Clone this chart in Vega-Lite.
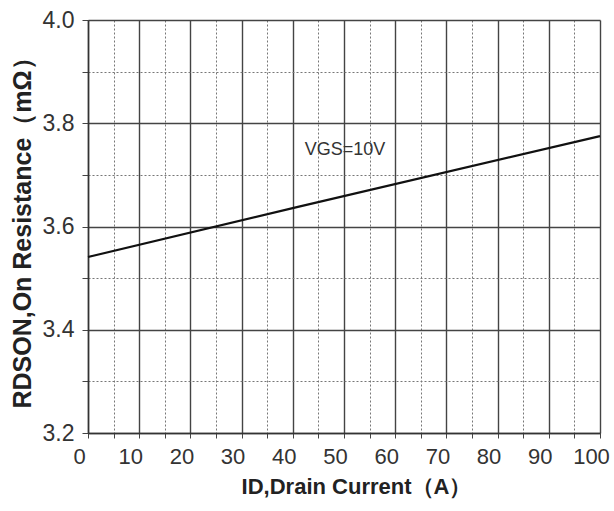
{
  "$schema": "https://vega.github.io/schema/vega-lite/v6.json",
  "width": 512,
  "height": 413,
  "autosize": {"type": "none"},
  "padding": {"left": 88, "top": 20, "right": 14, "bottom": 78},
  "background": "white",
  "config": {
    "font": "Liberation Sans",
    "view": {"stroke": null}
  },
  "datasets": {
    "curve": [
      {"id": 0, "r": 3.541},
      {"id": 41, "r": 3.638},
      {"id": 100, "r": 3.775}
    ],
    "note": [
      {"id": 50.2, "r": 3.748, "label": "VGS=10V"}
    ]
  },
  "encoding": {
    "x": {
      "field": "id", "type": "quantitative",
      "scale": {"domain": [0, 100], "nice": false, "zero": false},
      "axis": {
        "values": [0,5,10,15,20,25,30,35,40,45,50,55,60,65,70,75,80,85,90,95,100],
        "labelExpr": "abs(round(datum.value/5)) % 2 == 0 ? datum.label : ''",
        "labelFontSize": 22,
        "labelColor": "#333",
        "labelPadding": 8,
        "labelOffset": -9,
        "labelFlush": false,
        "labelOverlap": false,
        "tickSize": 5,
        "tickColor": "#444",
        "domainColor": "#333",
        "domainWidth": 1.5,
        "grid": true,
        "gridColor": {"condition": {"test": "abs(round(datum.value/5)) % 2 == 1", "value": "#777"}, "value": "#444"},
        "gridDash": {"condition": {"test": "abs(round(datum.value/5)) % 2 == 1", "value": [2, 2]}, "value": []},
        "gridWidth": {"condition": {"test": "abs(round(datum.value/5)) % 2 == 1", "value": 1}, "value": 1.4},
        "title": "ID,Drain Current（A）",
        "titleFontSize": 22,
        "titleFontWeight": "bold",
        "titleColor": "#222",
        "titlePadding": 9,
        "titleX": 268
      }
    },
    "y": {
      "field": "r", "type": "quantitative",
      "scale": {"domain": [3.2, 4.0], "nice": false, "zero": false},
      "axis": {
        "values": [3.2,3.3,3.4,3.5,3.6,3.7,3.8,3.9,4.0],
        "labelExpr": "abs(round(datum.value*10) % 2) == 0 ? format(datum.value, '.1f') : ''",
        "labelFontSize": 23,
        "labelColor": "#333",
        "labelPadding": 8,
        "labelFlush": false,
        "labelOverlap": false,
        "tickSize": 6,
        "tickColor": "#444",
        "domainColor": "#333",
        "domainWidth": 1.5,
        "grid": true,
        "gridColor": {"condition": {"test": "abs(round(datum.value*10) % 2) == 1", "value": "#777"}, "value": "#444"},
        "gridDash": {"condition": {"test": "abs(round(datum.value*10) % 2) == 1", "value": [2, 2]}, "value": []},
        "gridWidth": {"condition": {"test": "abs(round(datum.value*10) % 2) == 1", "value": 1}, "value": 1.4},
        "title": "RDSON,On Resistance（mΩ）",
        "titleFontSize": 25,
        "titleFontWeight": "bold",
        "titleColor": "#222",
        "titlePadding": 7
      }
    }
  },
  "layer": [
    {
      "data": {"name": "curve"},
      "mark": {"type": "line", "color": "#111", "strokeWidth": 2.2}
    },
    {
      "data": {"name": "note"},
      "mark": {"type": "text", "fontSize": 18, "color": "#333", "align": "center", "baseline": "middle"},
      "encoding": {
        "text": {"field": "label"}
      }
    }
  ]
}
